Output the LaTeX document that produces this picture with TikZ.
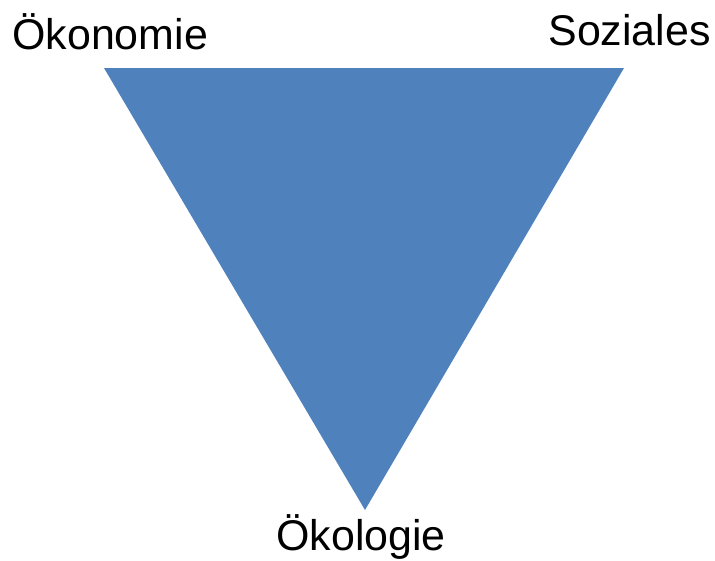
\documentclass[tikz,border=0pt]{standalone}
\usepackage{fontspec}
\setmainfont{Liberation Sans}
\usepackage{tikz}
\usetikzlibrary{positioning}
\definecolor{trianglecolor}{RGB}{79,129,189}

\begin{document}
\begin{tikzpicture}[
    x=0.75pt, y=-0.75pt,
    pillar/.style={inner sep=0pt, font=\fontsize{32.2}{37}\selectfont}
]
    \useasboundingbox (0,0) rectangle (715,561);

    % Corners of the triangle
    \coordinate (oek) at (104,68);
    \coordinate (soz) at (624,68);
    \coordinate (eko) at (365,510);
    \fill[trianglecolor] (oek) -- (soz) -- (eko) -- cycle;

    % Labels of the three pillars
    \node[pillar, anchor=base west] (oekonomie) at (12,49) {Ökonomie};
    \node[pillar, anchor=base east] (soziales) at (711,45) {Soziales};
    \node[pillar, anchor=base] (oekologie) at (361,550) {Ökologie};
\end{tikzpicture}
\end{document}
